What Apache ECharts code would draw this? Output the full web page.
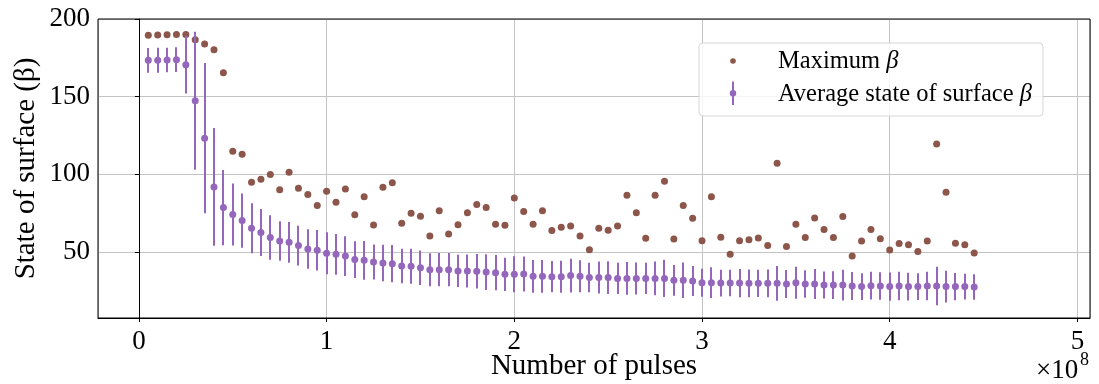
<!DOCTYPE html>
<html>
<head>
<meta charset="utf-8">
<script src="https://cdn.jsdelivr.net/npm/echarts@6/dist/echarts.min.js"></script>
<style>
html,body{margin:0;padding:0;background:#fff;}
#chart{width:1099px;height:384px;}
</style>
</head>
<body>
<div id="chart"></div>
<script>
// Number of pulses (x 1e8)
const pulses = [0.05,0.10,0.15,0.20,0.25,0.30,0.35,0.40,0.45,0.50,0.55,0.60,0.65,0.70,0.75,0.80,0.85,0.90,0.95,1.00,
1.05,1.10,1.15,1.20,1.25,1.30,1.35,1.40,1.45,1.50,1.55,1.60,1.65,1.70,1.75,1.80,1.85,1.90,1.95,2.00,
2.05,2.10,2.15,2.20,2.25,2.30,2.35,2.40,2.45,2.50,2.55,2.60,2.65,2.70,2.75,2.80,2.85,2.90,2.95,3.00,
3.05,3.10,3.15,3.20,3.25,3.30,3.35,3.40,3.45,3.50,3.55,3.60,3.65,3.70,3.75,3.80,3.85,3.90,3.95,4.00,
4.05,4.10,4.15,4.20,4.25,4.30,4.35,4.40,4.45];

// Maximum beta
const maxBeta = [189.5,189.7,189.9,190.1,190.1,186.7,183.9,180.2,165.4,114.9,113.0,94.9,96.9,99.9,90.0,101.4,91.1,87.0,79.9,89.1,
82.0,90.6,73.9,85.5,67.4,91.7,94.5,68.5,75.0,73.0,60.3,76.5,61.6,67.6,75.2,80.5,78.6,67.9,67.2,84.8,
76.0,67.9,76.5,63.8,65.9,66.8,60.3,51.5,65.3,64.0,66.8,86.5,75.3,58.8,86.5,95.6,58.4,79.9,71.7,57.3,
85.5,59.5,48.5,57.3,57.8,59.0,54.1,107.2,53.5,67.9,59.3,71.9,64.4,59.3,72.8,47.4,57.1,64.4,58.6,51.3,
55.4,54.7,50.3,57.1,119.6,88.5,55.6,54.7,49.4];

// Average state of surface beta
const avgBeta = [173.4,173.4,173.6,173.8,170.6,147.4,123.3,91.9,78.6,74.1,70.2,65.3,62.5,59.3,57.1,56.2,54.1,51.9,51.1,49.2,
48.5,47.4,45.1,44.6,43.6,42.9,42.5,41.0,40.8,39.9,38.6,38.6,38.6,37.8,37.8,37.6,37.1,36.7,35.6,35.6,
35.8,34.3,34.3,34.1,34.1,34.8,34.3,33.5,33.5,33.5,33.0,33.0,33.0,33.0,33.0,33.0,31.8,31.8,31.3,30.2,
30.2,30.0,30.0,30.0,29.8,29.8,29.8,29.8,29.4,30.2,29.4,29.4,28.7,28.7,28.7,28.1,27.7,28.3,28.1,27.7,
28.1,27.7,27.7,28.1,28.1,27.7,27.7,27.7,27.5];

// Error (half-length of error bar)
const errBeta = [7.95,8.06,7.95,7.95,18.6,44.4,48.3,37.9,24.2,20.0,17.5,16.1,15.1,14.3,12.7,13.1,12.8,12.7,13.0,13.5,
13.1,12.8,11.8,12.4,11.3,11.8,12.0,11.1,11.3,11.1,10.6,10.7,10.7,10.4,10.6,11.1,11.5,11.3,10.7,11.6,
11.3,10.5,10.5,10.1,10.3,10.9,10.3,9.5,10.3,10.6,10.0,10.5,10.3,10.0,10.9,12.0,9.9,11.4,9.7,9.0,
9.9,8.6,8.5,9.1,9.0,8.8,8.9,11.2,9.0,10.3,8.9,9.6,8.7,8.9,9.9,9.0,8.6,8.9,8.9,9.1,
9.1,8.9,8.6,9.1,12.4,10.2,8.8,8.3,8.2];

const xTickLabels = ['0','1','2','3','4','5'];
const yTickLabels = ['50','100','150','200'];

const BROWN = '#8c564b';
const PURPLE = '#9467bd';
const FONT = '"Liberation Serif", "DejaVu Serif", serif';

const chart = echarts.init(document.getElementById('chart'), null, {renderer: 'canvas'});

const maxData = pulses.map((x, i) => [x, maxBeta[i]]);
const avgData = pulses.map((x, i) => [x, avgBeta[i]]);
const errData = pulses.map((x, i) => [x, avgBeta[i] - errBeta[i], avgBeta[i] + errBeta[i]]);

const option = {
  animation: false,
  backgroundColor: '#fff',
  grid: {left: 98, right: 9, top: 19, bottom: 66, containLabel: false, outerBoundsMode: 'none',
    show: true, borderColor: '#000', borderWidth: 1, backgroundColor: 'transparent', z: 5},
  xAxis: {
    type: 'value', min: -0.218, max: 5.067, splitNumber: 5,
    axisLine: {show: true, lineStyle: {color: '#000', width: 1}},
    axisTick: {show: true, inside: false, length: 4, lineStyle: {color: '#000'}},
    axisLabel: {
      show: true, showMinLabel: false, showMaxLabel: false, margin: 10,
      color: '#000', fontSize: 27, fontFamily: FONT,
      formatter: v => { const i = Math.round(v); return Math.abs(v - i) < 1e-6 && i >= 0 && i < xTickLabels.length ? xTickLabels[i] : ''; }
    },
    splitLine: {show: true, lineStyle: {color: '#c4c4c4', width: 1}},
    name: 'Number of pulses', nameLocation: 'middle', nameGap: 34, nameMoveOverlap: false,
    nameTextStyle: {color: '#000', fontSize: 29, fontFamily: FONT}
  },
  yAxis: {
    type: 'value', min: 7.5, max: 200, splitNumber: 4,
    axisLine: {show: true, lineStyle: {color: '#000', width: 1}},
    axisTick: {show: true, inside: false, length: 4, lineStyle: {color: '#000'}},
    axisLabel: {
      show: true, showMinLabel: false, margin: 8,
      color: '#000', fontSize: 27, fontFamily: FONT,
      formatter: v => { const s = String(Math.round(v)); return Math.abs(v - Math.round(v)) < 1e-6 && yTickLabels.indexOf(s) >= 0 ? s : ''; }
    },
    splitLine: {show: true, lineStyle: {color: '#c4c4c4', width: 1}},
    name: 'State of surface (β)', nameLocation: 'middle', nameGap: 57, nameRotate: 90, nameMoveOverlap: false,
    nameTextStyle: {color: '#000', fontSize: 29, fontFamily: FONT}
  },
  series: [
    {
      name: 'Maximum β', type: 'scatter', data: maxData,
      symbol: 'circle', symbolSize: 7, itemStyle: {color: BROWN, opacity: 1}, z: 3
    },
    {
      name: 'Average state of surface β', type: 'custom', data: errData,
      encode: {x: 0, y: [1, 2]}, z: 4,
      renderItem: function (params, api) {
        const x = api.value(0);
        const p1 = api.coord([x, api.value(1)]);
        const p2 = api.coord([x, api.value(2)]);
        const px = Math.round(p1[0]);
        return {type: 'line', shape: {x1: px, y1: p1[1], x2: px, y2: p2[1]},
          style: {stroke: PURPLE, lineWidth: 2}};
      }
    },
    {
      name: 'Average state of surface β', type: 'scatter', data: avgData,
      symbol: 'circle', symbolSize: 7, itemStyle: {color: PURPLE, opacity: 1}, z: 5
    }
  ],
  graphic: [
    {type: 'rect', z: 100, shape: {x: 699, y: 43, width: 344, height: 73, r: 4},
      style: {fill: 'rgba(255,255,255,0.82)', stroke: '#d6d6d6', lineWidth: 1}},
    {type: 'circle', z: 101, shape: {cx: 733, cy: 61, r: 2.8}, style: {fill: BROWN}},
    {type: 'line', z: 101, shape: {x1: 733, y1: 81.5, x2: 733, y2: 105}, style: {stroke: PURPLE, lineWidth: 2}},
    {type: 'circle', z: 102, shape: {cx: 733, cy: 93.3, r: 3.2}, style: {fill: PURPLE}},
    {type: 'text', z: 101, x: 778, y: 62, style: {
      text: 'Maximum {i|β}', fill: '#000', font: '24.5px ' + FONT, verticalAlign: 'middle',
      rich: {i: {fontStyle: 'italic', fontSize: 24.5, fontFamily: FONT}}}},
    {type: 'text', z: 101, x: 778, y: 94.5, style: {
      text: 'Average state of surface {i|β}', fill: '#000', font: '24.5px ' + FONT, verticalAlign: 'middle',
      rich: {i: {fontStyle: 'italic', fontSize: 24.5, fontFamily: FONT}}}},
    {type: 'text', z: 101, x: 1036, y: 357, style: {
      text: '×10', fill: '#000', font: '27px ' + FONT, verticalAlign: 'top'}},
    {type: 'text', z: 101, x: 1080, y: 351, style: {
      text: '8', fill: '#000', font: '18px ' + FONT, verticalAlign: 'top'}}
  ]
};
chart.setOption(option);
</script>
</body>
</html>
